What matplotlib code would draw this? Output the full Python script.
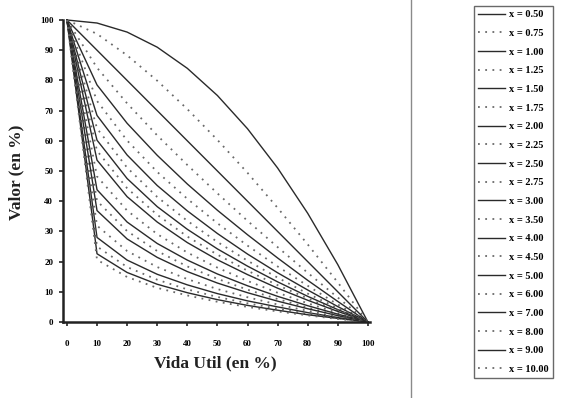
import matplotlib
matplotlib.use('Agg')
import matplotlib.pyplot as plt
from matplotlib.lines import Line2D

# vida util (%) en el eje x
vida = [0, 10, 20, 30, 40, 50, 60, 70, 80, 90, 100]

# exponentes x de la leyenda
exponentes = ['0.50', '0.75', '1.00', '1.25', '1.50', '1.75', '2.00', '2.25',
              '2.50', '2.75', '3.00', '3.50', '4.00', '4.50', '5.00', '6.00',
              '7.00', '8.00', '9.00', '10.00']

# valor (%), una fila por curva
valores = [
    [100, 99.0, 96.0, 91.0, 84.0, 75.0, 64.0, 51.0, 36.0, 19.0, 0],
    [100, 95.4, 88.3, 79.9, 70.5, 60.3, 49.4, 37.8, 25.7, 13.1, 0],
    [100, 90.0, 80.0, 70.0, 60.0, 50.0, 40.0, 30.0, 20.0, 10.0, 0],
    [100, 84.2, 72.4, 61.8, 52.0, 42.6, 33.5, 24.8, 16.3, 8.1, 0],
    [100, 78.5, 65.8, 55.2, 45.7, 37.0, 28.9, 21.2, 13.8, 6.8, 0],
    [100, 73.2, 60.1, 49.7, 40.8, 32.7, 25.3, 18.4, 12.0, 5.8, 0],
    [100, 68.4, 55.3, 45.2, 36.8, 29.3, 22.5, 16.3, 10.6, 5.1, 0],
    [100, 64.1, 51.1, 41.4, 33.5, 26.5, 20.3, 14.7, 9.4, 4.6, 0],
    [100, 60.2, 47.5, 38.2, 30.7, 24.2, 18.5, 13.3, 8.5, 4.1, 0],
    [100, 56.7, 44.3, 35.5, 28.3, 22.3, 17.0, 12.2, 7.8, 3.8, 0],
    [100, 53.6, 41.5, 33.1, 26.3, 20.6, 15.7, 11.2, 7.2, 3.5, 0],
    [100, 48.2, 36.9, 29.1, 23.0, 18.0, 13.6, 9.7, 6.2, 3.0, 0],
    [100, 43.8, 33.1, 26.0, 20.5, 15.9, 12.0, 8.5, 5.4, 2.6, 0],
    [100, 40.1, 30.1, 23.5, 18.4, 14.3, 10.7, 7.6, 4.8, 2.3, 0],
    [100, 36.9, 27.5, 21.4, 16.7, 12.9, 9.7, 6.9, 4.4, 2.1, 0],
    [100, 31.9, 23.5, 18.2, 14.2, 10.9, 8.2, 5.8, 3.7, 1.7, 0],
    [100, 28.0, 20.5, 15.8, 12.3, 9.4, 7.0, 5.0, 3.1, 1.5, 0],
    [100, 25.0, 18.2, 14.0, 10.8, 8.3, 6.2, 4.4, 2.8, 1.3, 0],
    [100, 22.6, 16.4, 12.5, 9.7, 7.4, 5.5, 3.9, 2.4, 1.2, 0],
    [100, 20.6, 14.9, 11.3, 8.8, 6.7, 5.0, 3.5, 2.2, 1.0, 0],
]

plt.rcParams['font.family'] = ['Liberation Serif', 'DejaVu Serif']
plt.rcParams['font.weight'] = 'bold'

fig = plt.figure(figsize=(5.72, 3.98), dpi=100)
ax = fig.add_axes([63 / 572, 1 - 322 / 398, 307 / 572, 302 / 398])

handles = []
for i, (ex, val) in enumerate(zip(exponentes, valores)):
    if i % 2 == 0:
        ln, = ax.plot(vida, val, color='#2a2a2a', linewidth=1.0,
                      linestyle='solid', clip_on=False)
    else:
        ln, = ax.plot(vida, val, color='#6a6a6a', linewidth=1.3,
                      linestyle=(0, (1, 3)), clip_on=False)
    ln.set_label('x = ' + ex)
    handles.append(ln)

ax.set_xlim(-1.3, 100.7)
ax.set_ylim(0, 100)
ax.set_xticks(range(0, 101, 10))
ax.set_yticks(range(0, 101, 10))
ax.spines['top'].set_visible(False)
ax.spines['right'].set_visible(False)
for s in ('left', 'bottom'):
    ax.spines[s].set_linewidth(1.8)
    ax.spines[s].set_color('#222222')
ax.tick_params(axis='both', direction='out', length=3, width=1.2,
               color='#222222', labelsize=6.5)
ax.tick_params(axis='x', pad=10)
ax.tick_params(axis='y', pad=4)

fig.text(215 / 572, 1 - 363 / 398, 'Vida Util (en %)', ha='center',
         va='center', fontsize=12.5, fontweight='bold', color='#222222')
fig.text(16 / 572, 1 - 172 / 398, 'Valor (en %)', ha='center',
         va='center', rotation=90, fontsize=12.5, fontweight='bold',
         color='#222222')

# linea divisoria del escaneo
fig.add_artist(Line2D([411 / 572, 411 / 572], [0, 1], color='#8a8a8a',
                      linewidth=1.0))

leg = fig.legend(handles=handles, loc='upper left',
                 bbox_to_anchor=(474 / 572, 1 - 6 / 398),
                 fontsize=7.5, frameon=True, fancybox=False,
                 handlelength=2.6, labelspacing=0.9, borderpad=0.4,
                 handletextpad=0.4, borderaxespad=0)
leg.get_frame().set_edgecolor('#444444')
leg.get_frame().set_linewidth(1.0)

fig.savefig('out.png', dpi=100)
